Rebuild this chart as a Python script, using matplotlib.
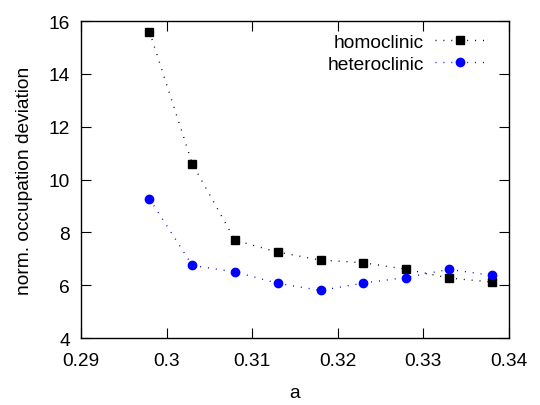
import matplotlib
matplotlib.use("Agg")
import matplotlib.pyplot as plt

plt.rcParams['font.family'] = ['Liberation Sans', 'DejaVu Sans']

a = [0.298, 0.303, 0.308, 0.313, 0.318, 0.323, 0.328, 0.333, 0.338]
homoclinic = [15.6, 10.6, 7.7, 7.25, 6.95, 6.85, 6.6, 6.27, 6.12]
heteroclinic = [9.27, 6.75, 6.5, 6.07, 5.8, 6.08, 6.29, 6.6, 6.37]

dots = (0, (0.7, 5))

fig = plt.figure(figsize=(5.4, 4.06), dpi=100)
ax = fig.add_axes([0.15, 0.165, 0.7926, 0.7808])

ax.plot(a, homoclinic, linestyle=dots, color='black', lw=1, marker='s',
        markersize=5.8, label='homoclinic')
ax.plot(a, heteroclinic, linestyle=dots, color='blue', lw=1, marker='o',
        markersize=6, label='heteroclinic')

ax.set_xlim(0.29, 0.34)
ax.set_ylim(4, 16)
ax.set_xticks([0.29, 0.3, 0.31, 0.32, 0.33, 0.34])
ax.set_xticklabels(['0.29', '0.3', '0.31', '0.32', '0.33', '0.34'])
ax.set_yticks(range(4, 17, 2))
ax.tick_params(direction='in', length=7, top=True, right=True, labelsize=13.8)
ax.tick_params(axis='x', pad=10)
ax.tick_params(axis='y', pad=8)
for s in ax.spines.values():
    s.set_linewidth(1)

ax.set_xlabel('a', fontsize=13.8, labelpad=11)
ax.set_ylabel('norm. occupation deviation', fontsize=13.8, labelpad=11)

ax.legend(loc='upper right', bbox_to_anchor=(0.965, 0.985), borderaxespad=0,
          frameon=False, markerfirst=False, fontsize=13.8,
          handlelength=2.7, handletextpad=0.55, labelspacing=0.25)

plt.savefig('out.png', dpi=100)
